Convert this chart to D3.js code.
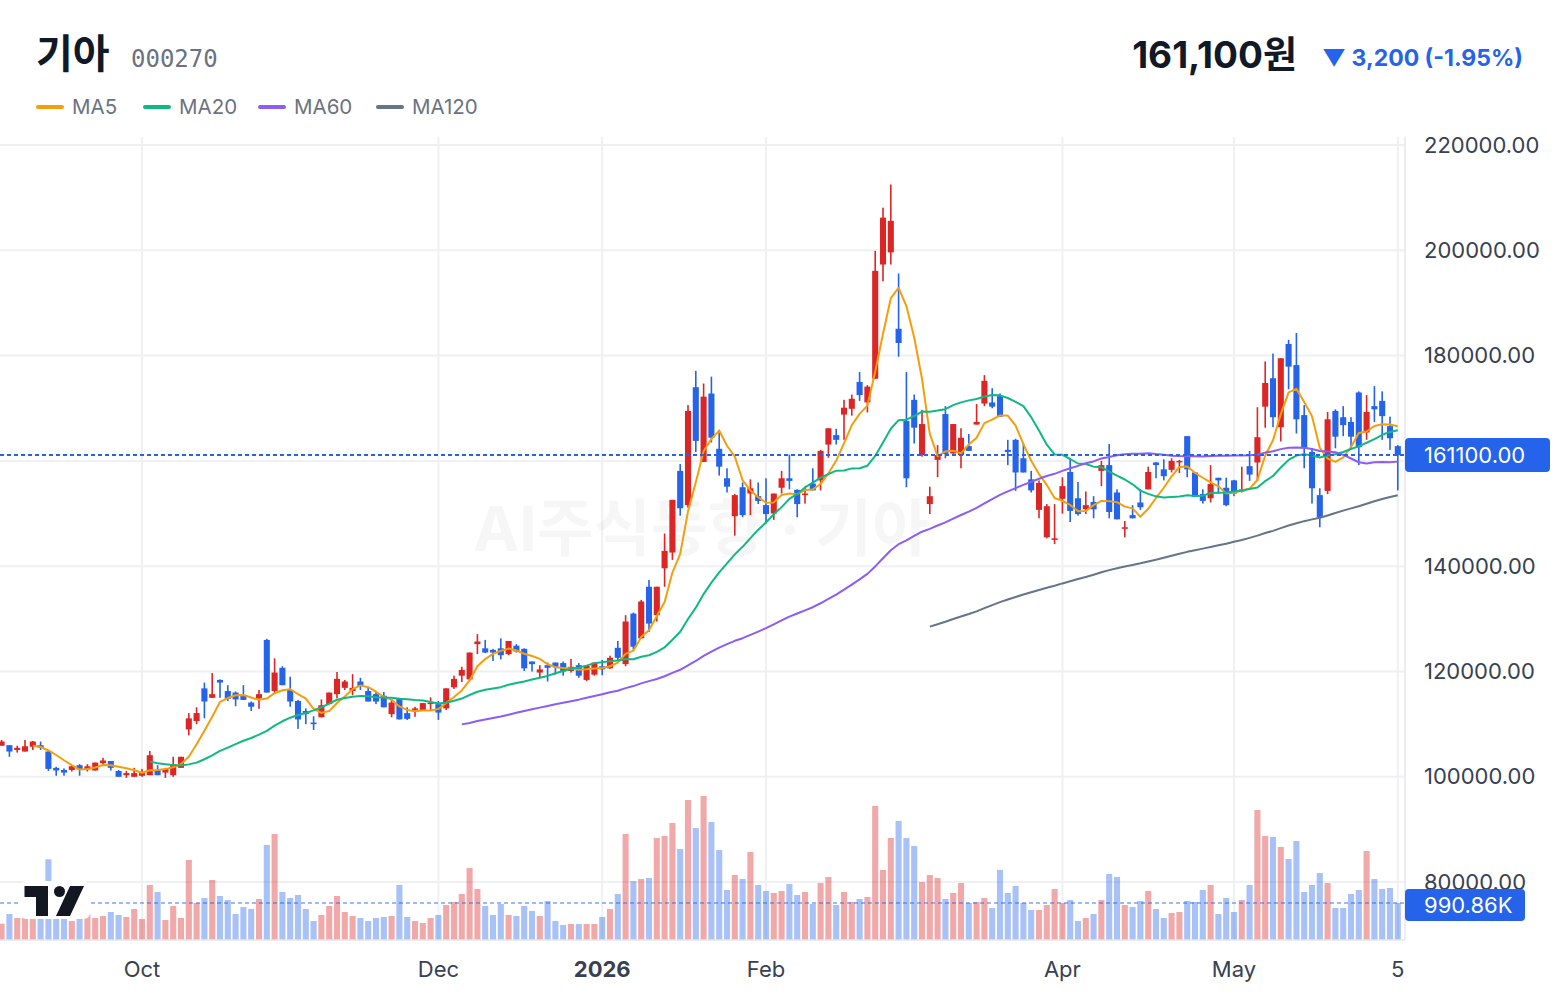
<!DOCTYPE html>
<html lang="ko">
<head>
<meta charset="UTF-8">
<title>기아 000270</title>
<script src="https://cdn.jsdelivr.net/npm/d3@7/dist/d3.min.js"></script>
<style>
  body { margin: 0; background: #fff; overflow: hidden; }
  text { font-family: Inter, "Noto Sans CJK KR", sans-serif; }
</style>
</head>
<body>
<script>
// 일봉 데이터 (원)
const opens = [105900,106000,105100,104800,105700,106000,104800,101700,101300,101300,102200,101400,101200,102600,103000,101100,100300,100000,100200,100300,
  101300,100800,100300,101700,109000,110600,116800,115000,118400,116300,116000,115400,114100,114900,126000,116300,120700,116500,114400,112500,
  110300,111300,113800,115700,116900,116300,118100,116300,115700,115400,111900,114900,112100,112800,112700,113800,113800,113000,117000,119200,
  118500,125200,124400,124100,124400,123300,124900,124300,121900,119800,121200,121700,121600,120100,121200,118400,119400,121000,120600,124500,
  121400,131000,126300,136100,130700,139600,142600,158100,151600,174000,159800,172800,162300,156700,149500,155000,153800,153300,151600,150000,
  154900,156700,154500,153500,155700,156300,163100,164900,168800,169900,175000,171100,175600,197300,199600,185100,167600,171600,161100,151800,
  160200,168900,161400,161100,162800,166900,170900,171100,172300,162100,164000,160500,156500,150700,145500,145000,152800,157900,152900,150800,
  152200,158100,159200,154000,147100,149700,152100,154600,159700,158400,158300,159800,164700,157800,153700,152900,156800,154900,156300,154200,
  159000,159700,170300,175700,166400,182200,178200,168700,161700,153500,154300,169500,168300,167400,173000,165400,170400,171400,166600,162800];
const highs = [107000,106000,105900,107000,106800,106700,105100,101900,101600,102000,102400,102400,102700,103600,103000,101300,101100,101700,101500,104900,
  102200,101700,103800,103800,112100,113200,117900,119700,118500,117400,116200,117400,114300,116500,126200,122500,121000,119000,114600,113000,
  111500,114700,116000,119900,118400,119500,118800,117100,116200,116100,114600,115000,113200,113300,114000,115100,114400,116800,119200,120900,
  123600,127100,126000,124300,126300,125800,125200,124400,121900,121200,121700,121700,121900,122400,121600,121200,121700,122200,123000,125800,
  130700,131200,133600,137400,136100,146200,152600,159400,170600,177100,174700,176000,165900,158600,153700,155900,156500,155900,156700,153800,
  158100,161200,154600,155100,158600,162100,166200,166100,171600,172600,176900,174400,199900,208100,212500,195600,176900,172600,169700,155100,
  163000,170400,167000,166200,165100,170800,176300,173800,172800,164000,164200,163300,158100,156300,151800,151800,156900,160500,156000,154200,
  153300,160000,163200,154600,148600,151600,154600,158900,159800,160300,160500,160200,164700,157800,154600,159200,156800,156800,156400,158900,
  161900,170200,178900,180400,179500,183000,184300,170600,162400,154800,169300,169800,170400,168300,173200,172500,174200,173200,168400,163000];
const lows = [105900,103800,104600,104800,105100,105100,101100,100200,100200,101000,100200,101000,101200,102100,101200,100000,99800,100000,100000,100300,
  100300,99800,100000,101700,107900,110000,111100,115000,115000,114400,113400,114600,112500,112900,116000,115900,117400,113300,109100,110000,
  108900,111300,113800,114900,116500,115500,116500,114300,113800,113200,111300,110900,110800,111400,112700,112700,110800,112700,116700,118000,
  118400,123300,123500,122000,122300,123100,123600,120100,120000,118800,118100,119400,119200,119800,118800,118200,119200,119300,120500,122000,
  121000,124100,126300,127500,129500,136100,141200,149600,151100,161700,159800,163500,157200,154000,145800,149300,149700,151800,148100,148800,
  153800,154600,149300,151900,154400,154400,160600,163100,164000,168600,171400,169200,175600,194100,197300,179800,155000,163300,160800,149900,
  156900,160500,161400,158600,161900,166900,170400,170000,168400,159200,154300,157800,154000,149100,145300,144200,150000,148400,149600,149900,
  149100,155200,149100,148900,145500,149100,150700,154600,156700,156300,157800,157700,156900,153200,151900,152100,153800,151400,153300,154000,
  156200,156200,166300,166400,163700,173600,165200,158600,151900,147400,153700,162400,164700,162400,159200,164000,167400,164000,162100,154400];
const closes = [106700,104800,105500,105800,106700,105500,101500,101200,100800,102000,101400,102000,102700,103100,101700,100000,100700,100700,100700,104100,
  100300,101500,102400,103800,111100,112100,114300,115700,117900,114800,114700,114600,113300,115700,116000,119800,117400,114300,110900,111900,
  110000,113600,116000,118600,118100,116900,117200,114300,114300,113200,114100,110900,111000,113000,114000,114100,112200,116800,118600,120300,
  123600,125700,123600,123600,123100,125800,123800,120600,121400,120400,120700,120900,120000,120900,119200,121100,121700,120400,122600,122600,
  129500,124700,133300,129100,136100,142900,152600,151000,169500,163800,172200,164400,158900,155100,153500,149700,154800,152400,149900,153800,
  156700,156200,151800,153800,154400,161900,166200,164000,170100,171800,172500,174100,196100,206200,205600,182400,156700,166300,167000,153300,
  161100,161300,167000,164400,161900,167400,175200,170300,168400,161700,157800,157800,154400,155800,151400,145300,155200,150500,149900,151600,
  150800,159200,150300,148900,147400,149100,151200,157900,159200,157100,160000,160000,158400,153200,152400,155600,156300,151600,153800,154600,
  157400,164500,174800,168300,179500,177900,167900,162400,154800,149300,167900,164600,166800,164600,162600,169300,169800,168500,164300,161100];
// 거래량 (천주)
const volumes = [437,696,589,670,983,803,2161,670,589,509,983,696,589,643,750,670,616,830,562,1473,
  1285,536,911,589,2142,991,1125,1607,1178,1071,696,884,830,1098,2544,2839,1285,1125,1205,830,
  509,670,911,1178,750,643,589,509,589,616,643,1473,616,509,455,589,670,937,1018,1232,
  1928,1366,911,670,964,670,643,911,777,643,1044,509,402,428,428,428,428,616,830,1232,
  2839,1580,1634,1660,2732,2785,3133,2437,3749,2999,3856,3160,2410,1339,1741,1634,2357,1473,1312,1259,
  1312,1500,1205,1285,964,1526,1687,937,1285,1018,1098,1152,3589,1875,2732,3187,2732,2517,1553,1741,
  1660,1098,1259,1526,991,1018,1125,857,1875,1259,1446,991,803,803,937,1366,991,1071,509,589,
  696,1071,1767,1687,937,884,1044,1312,830,589,723,750,1044,1018,1339,1473,696,1125,750,1071,
  1473,3481,2785,2758,2491,2169,2651,1285,1473,1794,1526,857,857,1232,1339,2383,1634,1366,1393,990.86];

const maPeriods = [5, 20, 60, 120];
const maNames = ["MA5", "MA20", "MA60", "MA120"];
const maColors = ["#f59e0b", "#10b981", "#8b5cf6", "#64748b"];

const yTicks = [80000, 100000, 120000, 140000, 160000, 180000, 200000, 220000];
const xTickIdx = [18, 56, 77, 98, 136, 158, 179];
const xTickLabels = ["Oct", "Dec", "2026", "Feb", "Apr", "May", "5"];

const lastPrice = 161100;
const lastVolume = 990.86;
const change = -3200, changePct = -1.95;

const width = 1560, height = 996;
const plot = { left: 0, right: 1405, top: 137, bottom: 940 };
const upColor = "#dc2626", downColor = "#2563eb";

const svg = d3.select("body").append("svg")
  .attr("width", width).attr("height", height);

// 스케일
const n = closes.length;
const x = d3.scaleBand().domain(d3.range(n)).range([-2.3, 1401.7]).paddingInner(0.22).paddingOuter(0.11);
const xc = i => x(i) + x.bandwidth() / 2;
const y = d3.scaleLinear().domain([80000, 220000]).range([882.1, 145]);
const yVol = d3.scaleLinear().domain([0, 4000]).range([plot.bottom, plot.bottom - 149.4]);

// 그리드
svg.append("g").selectAll("line").data(yTicks).join("line")
  .attr("x1", plot.left).attr("x2", plot.right)
  .attr("y1", d => y(d)).attr("y2", d => y(d))
  .attr("stroke", "#eef0f4").attr("stroke-width", 2);
svg.append("g").selectAll("line").data(xTickIdx).join("line")
  .attr("x1", d => xc(d)).attr("x2", d => xc(d))
  .attr("y1", plot.top).attr("y2", plot.bottom)
  .attr("stroke", "#eef0f4").attr("stroke-width", 2);

// 워터마크
svg.append("text")
  .attr("x", 701).attr("y", 551)
  .attr("text-anchor", "middle")
  .attr("font-size", 62).attr("font-weight", 700)
  .attr("fill", "#000").attr("fill-opacity", 0.035)
  .text("AI주식동향 · 기아");

svg.append("clipPath").attr("id", "clip").append("rect")
  .attr("x", plot.left).attr("y", plot.top)
  .attr("width", plot.right - plot.left).attr("height", plot.bottom - plot.top);

const chart = svg.append("g").attr("clip-path", "url(#clip)");

// 거래량
const idx = d3.range(n);
chart.append("g").selectAll("rect").data(idx).join("rect")
  .attr("x", i => x(i)).attr("width", x.bandwidth())
  .attr("y", i => yVol(volumes[i]))
  .attr("height", i => plot.bottom - yVol(volumes[i]))
  .attr("fill", i => closes[i] >= opens[i] ? upColor : downColor)
  .attr("fill-opacity", 0.4);

// 거래량 마지막 값 라인
chart.append("line")
  .attr("x1", plot.left).attr("x2", plot.right)
  .attr("y1", yVol(lastVolume)).attr("y2", yVol(lastVolume))
  .attr("stroke", downColor).attr("stroke-opacity", 0.45)
  .attr("stroke-width", 2).attr("stroke-dasharray", "4 3");

// 캔들
const candles = chart.append("g").selectAll("g").data(idx).join("g")
  .attr("fill", i => closes[i] >= opens[i] ? upColor : downColor);
candles.append("rect")
  .attr("x", i => xc(i) - 0.8).attr("width", 1.6)
  .attr("y", i => y(highs[i]))
  .attr("height", i => Math.max(1, y(lows[i]) - y(highs[i])));
candles.append("rect")
  .attr("x", i => x(i)).attr("width", x.bandwidth())
  .attr("y", i => y(Math.max(opens[i], closes[i])))
  .attr("height", i => Math.max(1.5, Math.abs(y(opens[i]) - y(closes[i]))));

// 이동평균선 (종가 단순이동평균)
const line = d3.line()
  .defined(d => d[1] != null)
  .x(d => xc(d[0])).y(d => y(d[1]));
maPeriods.forEach((p, k) => {
  const pts = idx.map(i => [i, i >= p - 1 ? d3.mean(closes.slice(i - p + 1, i + 1)) : null]);
  chart.append("path")
    .datum(pts)
    .attr("d", line)
    .attr("fill", "none")
    .attr("stroke", maColors[k])
    .attr("stroke-width", 2)
    .attr("stroke-linejoin", "round");
});

// 현재가 라인
chart.append("line")
  .attr("x1", plot.left).attr("x2", plot.right)
  .attr("y1", y(lastPrice)).attr("y2", y(lastPrice))
  .attr("stroke", downColor).attr("stroke-width", 2)
  .attr("stroke-dasharray", "4 3");

// 축 테두리
svg.append("line")
  .attr("x1", plot.right).attr("x2", plot.right)
  .attr("y1", plot.top).attr("y2", plot.bottom)
  .attr("stroke", "#e5e7eb").attr("stroke-width", 1.5);
svg.append("line")
  .attr("x1", plot.left).attr("x2", plot.right)
  .attr("y1", plot.bottom).attr("y2", plot.bottom)
  .attr("stroke", "#e5e7eb").attr("stroke-width", 1.5);

// 가격 축 (현재가 라벨에 가려지는 눈금은 생략)
const yAxis = svg.append("g")
  .attr("transform", `translate(${plot.right},0)`)
  .call(d3.axisRight(y).tickValues(yTicks).tickSize(0).tickPadding(19)
    .tickFormat(d => Math.abs(y(d) - y(lastPrice)) < 20 ? "" : d.toFixed(2)));
yAxis.select(".domain").remove();
yAxis.selectAll("text").attr("font-size", 22).attr("fill", "#374151");

// 시간 축
const xAxis = svg.append("g")
  .attr("transform", `translate(0,${plot.bottom})`)
  .call(d3.axisBottom(x).tickValues(xTickIdx).tickSize(0).tickPadding(21)
    .tickFormat(i => xTickLabels[xTickIdx.indexOf(i)]));
xAxis.select(".domain").remove();
xAxis.selectAll("text").attr("font-size", 22).attr("fill", "#374151")
  .attr("font-weight", i => xTickLabels[xTickIdx.indexOf(i)] === "2026" ? 700 : 400);

// 현재가 라벨
const priceTag = svg.append("g").attr("transform", `translate(${plot.right},${y(lastPrice)})`);
priceTag.append("rect").attr("x", 0).attr("y", -17).attr("width", 145).attr("height", 34)
  .attr("rx", 4).attr("fill", downColor);
priceTag.append("text").attr("x", 19).attr("y", 8).attr("font-size", 22).attr("fill", "#fff")
  .text(lastPrice.toFixed(2));

// 거래량 라벨
const volTag = svg.append("g").attr("transform", `translate(${plot.right},${yVol(lastVolume) + 2})`);
volTag.append("rect").attr("x", 0).attr("y", -16).attr("width", 120).attr("height", 32)
  .attr("rx", 4).attr("fill", downColor);
volTag.append("text").attr("x", 19).attr("y", 8).attr("font-size", 22).attr("fill", "#fff")
  .text(d3.format(".2f")(lastVolume) + "K");

// 트레이딩뷰 로고
const logo = svg.append("g").attr("transform", "translate(20,881)");
logo.append("rect").attr("x", 0).attr("y", 0).attr("width", 70).attr("height", 38)
  .attr("rx", 6).attr("fill", "#fff");
logo.append("path").attr("d", "M4.5,5 H28 V35 H16 V16 H4.5 Z").attr("fill", "#131722");
logo.append("circle").attr("cx", 39.5).attr("cy", 10.5).attr("r", 5.5).attr("fill", "#131722");
logo.append("path").attr("d", "M50,5 H64 L50,35 H36 Z").attr("fill", "#131722");

// 헤더
svg.append("text").attr("x", 36).attr("y", 68)
  .attr("font-size", 40).attr("font-weight", 700).attr("fill", "#111827")
  .text("기아");
svg.append("text").attr("x", 131).attr("y", 67)
  .attr("font-size", 24).attr("fill", "#6b7280")
  .style("font-family", "'DejaVu Sans Mono', monospace")
  .text("000270");
svg.append("text").attr("x", 1297).attr("y", 68)
  .attr("text-anchor", "end")
  .attr("font-size", 37).attr("font-weight", 700).attr("fill", "#111827")
  .text(d3.format(",")(lastPrice) + "원");
svg.append("text").attr("x", 1523).attr("y", 66)
  .attr("text-anchor", "end")
  .attr("font-size", 23).attr("font-weight", 700).attr("fill", downColor)
  .text(`▼ ${d3.format(",")(Math.abs(change))} (${changePct.toFixed(2)}%)`);

// 범례
const legendX = [36, 143, 258, 376];
const legend = svg.append("g").selectAll("g").data(maNames).join("g")
  .attr("transform", (d, k) => `translate(${legendX[k]},107)`);
legend.append("line").attr("x1", 2).attr("x2", 26)
  .attr("stroke", (d, k) => maColors[k]).attr("stroke-width", 4).attr("stroke-linecap", "round");
legend.append("text").attr("x", 36).attr("y", 7)
  .attr("font-size", 20.5).attr("fill", "#6b7280")
  .text(d => d);
</script>
</body>
</html>
